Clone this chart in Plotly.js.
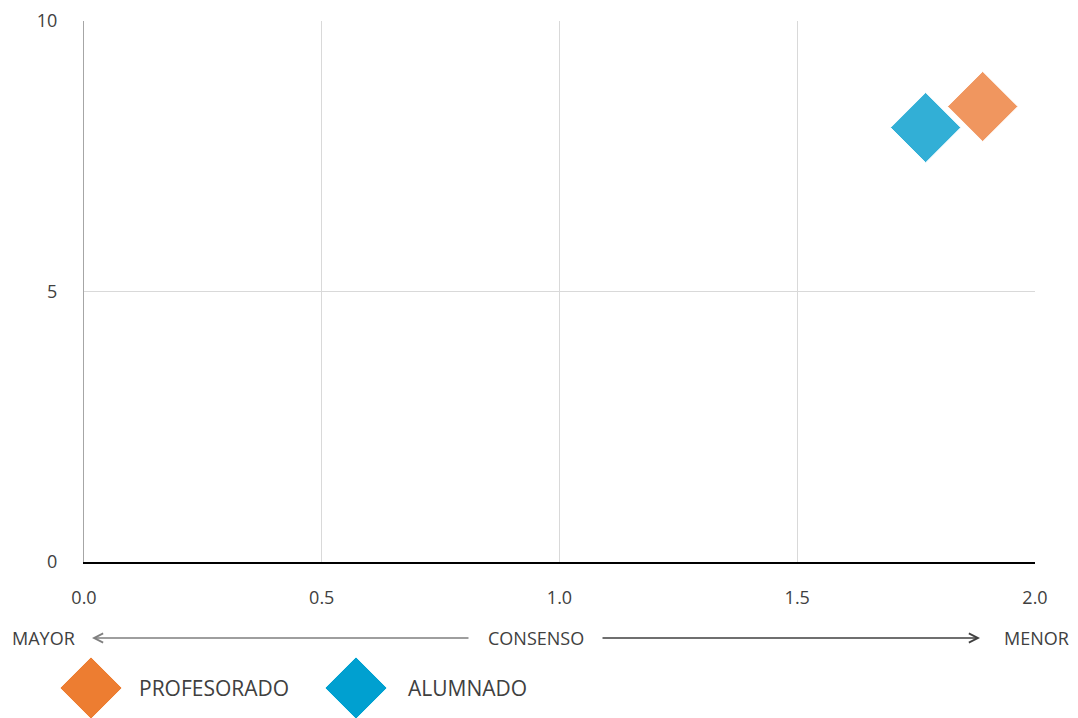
<!DOCTYPE html>
<html>
<head>
<meta charset="utf-8">
<script src="https://cdn.plot.ly/plotly-3.0.1.min.js"></script>
<style>html,body{margin:0;padding:0;background:#fff;}#chart{width:1078px;height:718px;}</style>
</head>
<body>
<div id="chart"></div>
<script>
const seriesNames = ["PROFESORADO", "ALUMNADO"];
const consensoX = [1.89, 1.77];
const valorY = [8.42, 8.03];
const plotColors = ["rgb(240,150,95)", "rgb(50,175,214)"];
const legendColors = ["rgb(237,125,49)", "rgb(0,160,208)"];
const xTickVals = [0, 0.5, 1.0, 1.5, 2.0];
const yTickVals = [0, 5, 10];
const axisWords = ["MAYOR", "CONSENSO", "MENOR"];

const W = 1078, H = 718;
const M = {l: 84, r: 43, t: 21, b: 156};
const pw = W - M.l - M.r, ph = H - M.t - M.b;
const px = x => (x - M.l) / pw;
const py = y => (H - M.b - y) / ph;

// draw ALUMNADO first so PROFESORADO is on top
const order = [1, 0];
const traces = order.map(i => ({
  type: "scatter", mode: "markers",
  name: seriesNames[i],
  x: [consensoX[i]], y: [valorY[i]],
  marker: {symbol: "diamond", size: 54, color: plotColors[i], line: {color: "rgba(255,255,255,0.9)", width: 1}},
  showlegend: false, hoverinfo: "x+y+name"
}));

const font = {family: "Open Sans, sans-serif", size: 18, color: "#404040"};
const tickFont = {family: "Open Sans, sans-serif", size: 18, color: "#404040"};

function diamondPath(cxp, cyp, half) {
  const hx = half / pw, hy = half / ph;
  const cx = px(cxp), cy = py(cyp);
  return `M ${cx - hx} ${cy} L ${cx} ${cy + hy} L ${cx + hx} ${cy} L ${cx} ${cy - hy} Z`;
}

const legendPos = [{cx: 91, tx: 137}, {cx: 356, tx: 406}];
const shapes = legendPos.map((p, i) => ({
  type: "path", xref: "paper", yref: "paper",
  path: diamondPath(p.cx, 688, 31),
  fillcolor: legendColors[i], line: {color: "rgba(255,255,255,0.8)", width: 1}
}));

const annotations = [
  {xref: "paper", yref: "paper", x: px(43), y: py(638), text: axisWords[0], showarrow: false, font: font, xanchor: "center", yanchor: "middle"},
  {xref: "paper", yref: "paper", x: px(536), y: py(638), text: axisWords[1], showarrow: false, font: font, xanchor: "center", yanchor: "middle"},
  {xref: "paper", yref: "paper", x: px(1036), y: py(638), text: axisWords[2], showarrow: false, font: font, xanchor: "center", yanchor: "middle"},
  {xref: "paper", yref: "paper", x: px(92), y: py(638), ax: 378, ay: 0, text: "", showarrow: true, arrowhead: 5, arrowsize: 1.2, arrowwidth: 1.5, arrowcolor: "#7f7f7f", standoff: 0, startstandoff: 0},
  {xref: "paper", yref: "paper", x: px(980), y: py(638), ax: -379, ay: 0, text: "", showarrow: true, arrowhead: 5, arrowsize: 1.2, arrowwidth: 1.5, arrowcolor: "#404040", standoff: 0, startstandoff: 0}
].concat(legendPos.map((p, i) => ({
  xref: "paper", yref: "paper", x: px(p.tx), y: py(688), text: seriesNames[i], showarrow: false,
  xanchor: "left", yanchor: "middle", font: {family: "Open Sans, sans-serif", size: 21, color: "#404040"}
})));

const layout = {
  width: W, height: H,
  margin: M,
  paper_bgcolor: "#fff", plot_bgcolor: "#fff",
  font: font,
  showlegend: false,
  xaxis: {
    range: [0, 2], tickvals: xTickVals, tickformat: ".1f",
    showgrid: true, gridcolor: "#d9d9d9", gridwidth: 1,
    zeroline: false, showline: true, linecolor: "#000", linewidth: 1.5,
    ticks: "", ticklabelstandoff: 19, tickfont: tickFont, fixedrange: true
  },
  yaxis: {
    range: [0, 10], tickvals: yTickVals,
    showgrid: true, gridcolor: "#d9d9d9", gridwidth: 1,
    zeroline: false, showline: true, linecolor: "#a6a6a6", linewidth: 1,
    ticks: "", ticklabelstandoff: 22, tickfont: tickFont, fixedrange: true
  },
  shapes: shapes,
  annotations: annotations
};

Plotly.newPlot("chart", traces, layout, {displayModeBar: false, staticPlot: true});
</script>
</body>
</html>
